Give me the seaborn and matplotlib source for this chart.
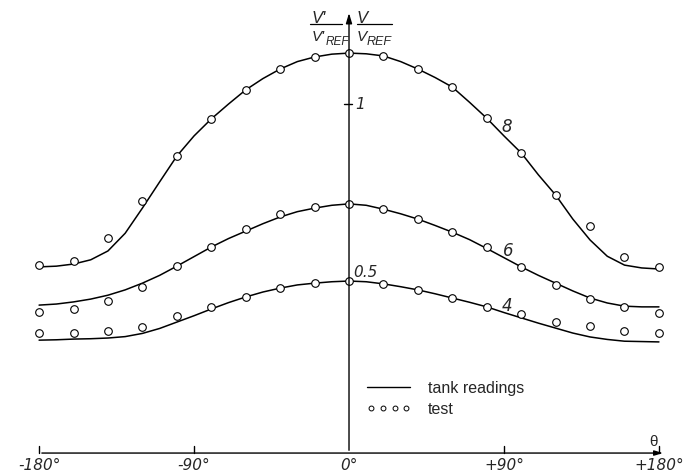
import numpy as np
import pandas as pd
import seaborn as sns
import matplotlib.pyplot as plt
from matplotlib.lines import Line2D
from matplotlib.legend_handler import HandlerLine2D

# tank readings (curves), read every 10 deg
theta_line = [-180, -170, -160, -150, -140, -130, -120, -110, -100, -90, -80, -70, -60, -50, -40, -30, -20, -10,
              0, 10, 20, 30, 40, 50, 60, 70, 80, 90, 100, 110, 120, 130, 140, 150, 160, 170, 180]
line_8 = [0.540, 0.542, 0.548, 0.560, 0.585, 0.635, 0.706, 0.780, 0.853, 0.910, 0.958, 1.000, 1.040, 1.072, 1.099, 1.120, 1.133, 1.141,
          1.144, 1.142, 1.136, 1.120, 1.099, 1.075, 1.048, 1.005, 0.960, 0.910, 0.862, 0.800, 0.743, 0.675, 0.616, 0.570, 0.545, 0.537, 0.534]
line_6 = [0.432, 0.435, 0.441, 0.449, 0.460, 0.475, 0.494, 0.516, 0.542, 0.569, 0.596, 0.620, 0.641, 0.662, 0.681, 0.696, 0.706, 0.714,
          0.718, 0.714, 0.703, 0.690, 0.675, 0.657, 0.638, 0.617, 0.592, 0.566, 0.540, 0.516, 0.494, 0.472, 0.452, 0.438, 0.429, 0.427, 0.427]
line_4 = [0.333, 0.334, 0.336, 0.337, 0.339, 0.343, 0.352, 0.366, 0.384, 0.402, 0.421, 0.439, 0.455, 0.469, 0.480, 0.489, 0.494, 0.498,
          0.500, 0.498, 0.492, 0.484, 0.475, 0.464, 0.452, 0.440, 0.427, 0.411, 0.396, 0.381, 0.367, 0.353, 0.342, 0.335, 0.330, 0.329, 0.328]

# test points, every 20 deg
theta_pts = [-180, -160, -140, -120, -100, -80, -60, -40, -20, 0, 20, 40, 60, 80, 100, 120, 140, 160, 180]
pts_8 = [0.545, 0.556, 0.621, 0.726, 0.853, 0.958, 1.040, 1.099, 1.133, 1.144,
         1.136, 1.099, 1.048, 0.960, 0.862, 0.743, 0.655, 0.568, 0.540]
pts_6 = [0.412, 0.421, 0.444, 0.483, 0.542, 0.596, 0.647, 0.689, 0.709, 0.718,
         0.703, 0.675, 0.638, 0.596, 0.540, 0.489, 0.449, 0.427, 0.410]
pts_4 = [0.353, 0.353, 0.359, 0.370, 0.401, 0.427, 0.455, 0.480, 0.494, 0.500,
         0.492, 0.475, 0.452, 0.427, 0.407, 0.384, 0.373, 0.359, 0.353]

curve_names = ["8", "6", "4"]
x_ticks = [-180, -90, 0, 90, 180]
x_tick_labels = ["-180°", "-90°", "0°", "+90°", "+180°"]

lines = pd.concat([pd.DataFrame({"theta": theta_line, "v": y, "curve": n})
                   for n, y in zip(curve_names, [line_8, line_6, line_4])])
pts = pd.concat([pd.DataFrame({"theta": theta_pts, "v": y, "curve": n})
                 for n, y in zip(curve_names, [pts_8, pts_6, pts_4])])

sns.set_style("white")
plt.rcParams['font.family'] = ['Liberation Sans', 'DejaVu Sans']
num_font = dict(family="DejaVu Sans", style="italic")

fig = plt.figure(figsize=(6.87, 4.75), dpi=100)
ax = fig.add_axes([0, 0, 1, 1])

sns.lineplot(data=lines, x="theta", y="v", units="curve", estimator=None,
             color="black", lw=1.1, ax=ax, legend=False)
sns.scatterplot(data=pts, x="theta", y="v", marker="o", s=30, facecolor="white",
                edgecolor="black", linewidth=0.8, ax=ax, legend=False, zorder=3)

ax.set_xlim(-202.7, 196.3)
ax.set_ylim(-0.048, 1.294)
ax.axis("off")

# axes drawn by hand
y0 = 0.014
ax.annotate("", xy=(184, y0), xytext=(-180, y0),
            arrowprops=dict(arrowstyle="-|>,head_length=0.5,head_width=0.15", lw=1, color="black"))
ax.annotate("", xy=(0, 1.265), xytext=(0, y0),
            arrowprops=dict(arrowstyle="-|>,head_length=0.6,head_width=0.18", lw=1, color="black"))
for t in [-180, -90, 90, 180]:
    ax.plot([t, t], [y0, y0 + 0.02], color="black", lw=1)
for t, lab in zip(x_ticks, x_tick_labels):
    ax.text(t, -0.022, lab, ha="center", va="center", fontsize=11, **num_font)
ax.text(177, 0.045, "θ", ha="center", va="center", fontsize=11)

ax.plot([-3, 2], [1.0, 1.0], color="black", lw=1)
ax.text(6.6, 1.0, "1", ha="center", va="center", fontsize=11, **num_font)
ax.text(9.5, 0.523, "0.5", ha="center", va="center", fontsize=11, **num_font)

# y axis label: V'/V'REF and V/VREF
ax.text(-21.5, 1.243, "V'", ha="left", va="center", fontsize=12, style="italic")
ax.plot([-22.6, -4.1], [1.226, 1.226], color="black", lw=0.9)
ax.text(-21.8, 1.189, "V'", ha="left", va="center", fontsize=11, style="italic")
ax.text(-13.6, 1.174, "REF", ha="left", va="center", fontsize=8.5, style="italic")
ax.text(4.6, 1.243, "V", ha="left", va="center", fontsize=12, style="italic")
ax.plot([4.6, 25], [1.226, 1.226], color="black", lw=0.9)
ax.text(4.6, 1.189, "V", ha="left", va="center", fontsize=11, style="italic")
ax.text(10.5, 1.174, "REF", ha="left", va="center", fontsize=9, style="italic")

for lab, (t, v) in zip(curve_names, [(91.7, 0.935), (92.3, 0.585), (92.0, 0.429)]):
    ax.text(t, v, lab, ha="center", va="center", fontsize=12, **num_font)

h_line = Line2D([], [], color="black", lw=1)
h_pts = Line2D([], [], ls="none", marker="o", ms=3.5, mfc="white", mec="black", mew=0.7)
ax.legend([h_line, h_pts], ["tank readings", "test"], loc="upper left", bbox_to_anchor=(0.506, 0.228),
          frameon=False, numpoints=4, handlelength=3.33, handletextpad=0.8, fontsize=11.5,
          labelspacing=0.35, handler_map={h_pts: HandlerLine2D(numpoints=4, marker_pad=0.55)})

fig.savefig("out.png", dpi=100)
